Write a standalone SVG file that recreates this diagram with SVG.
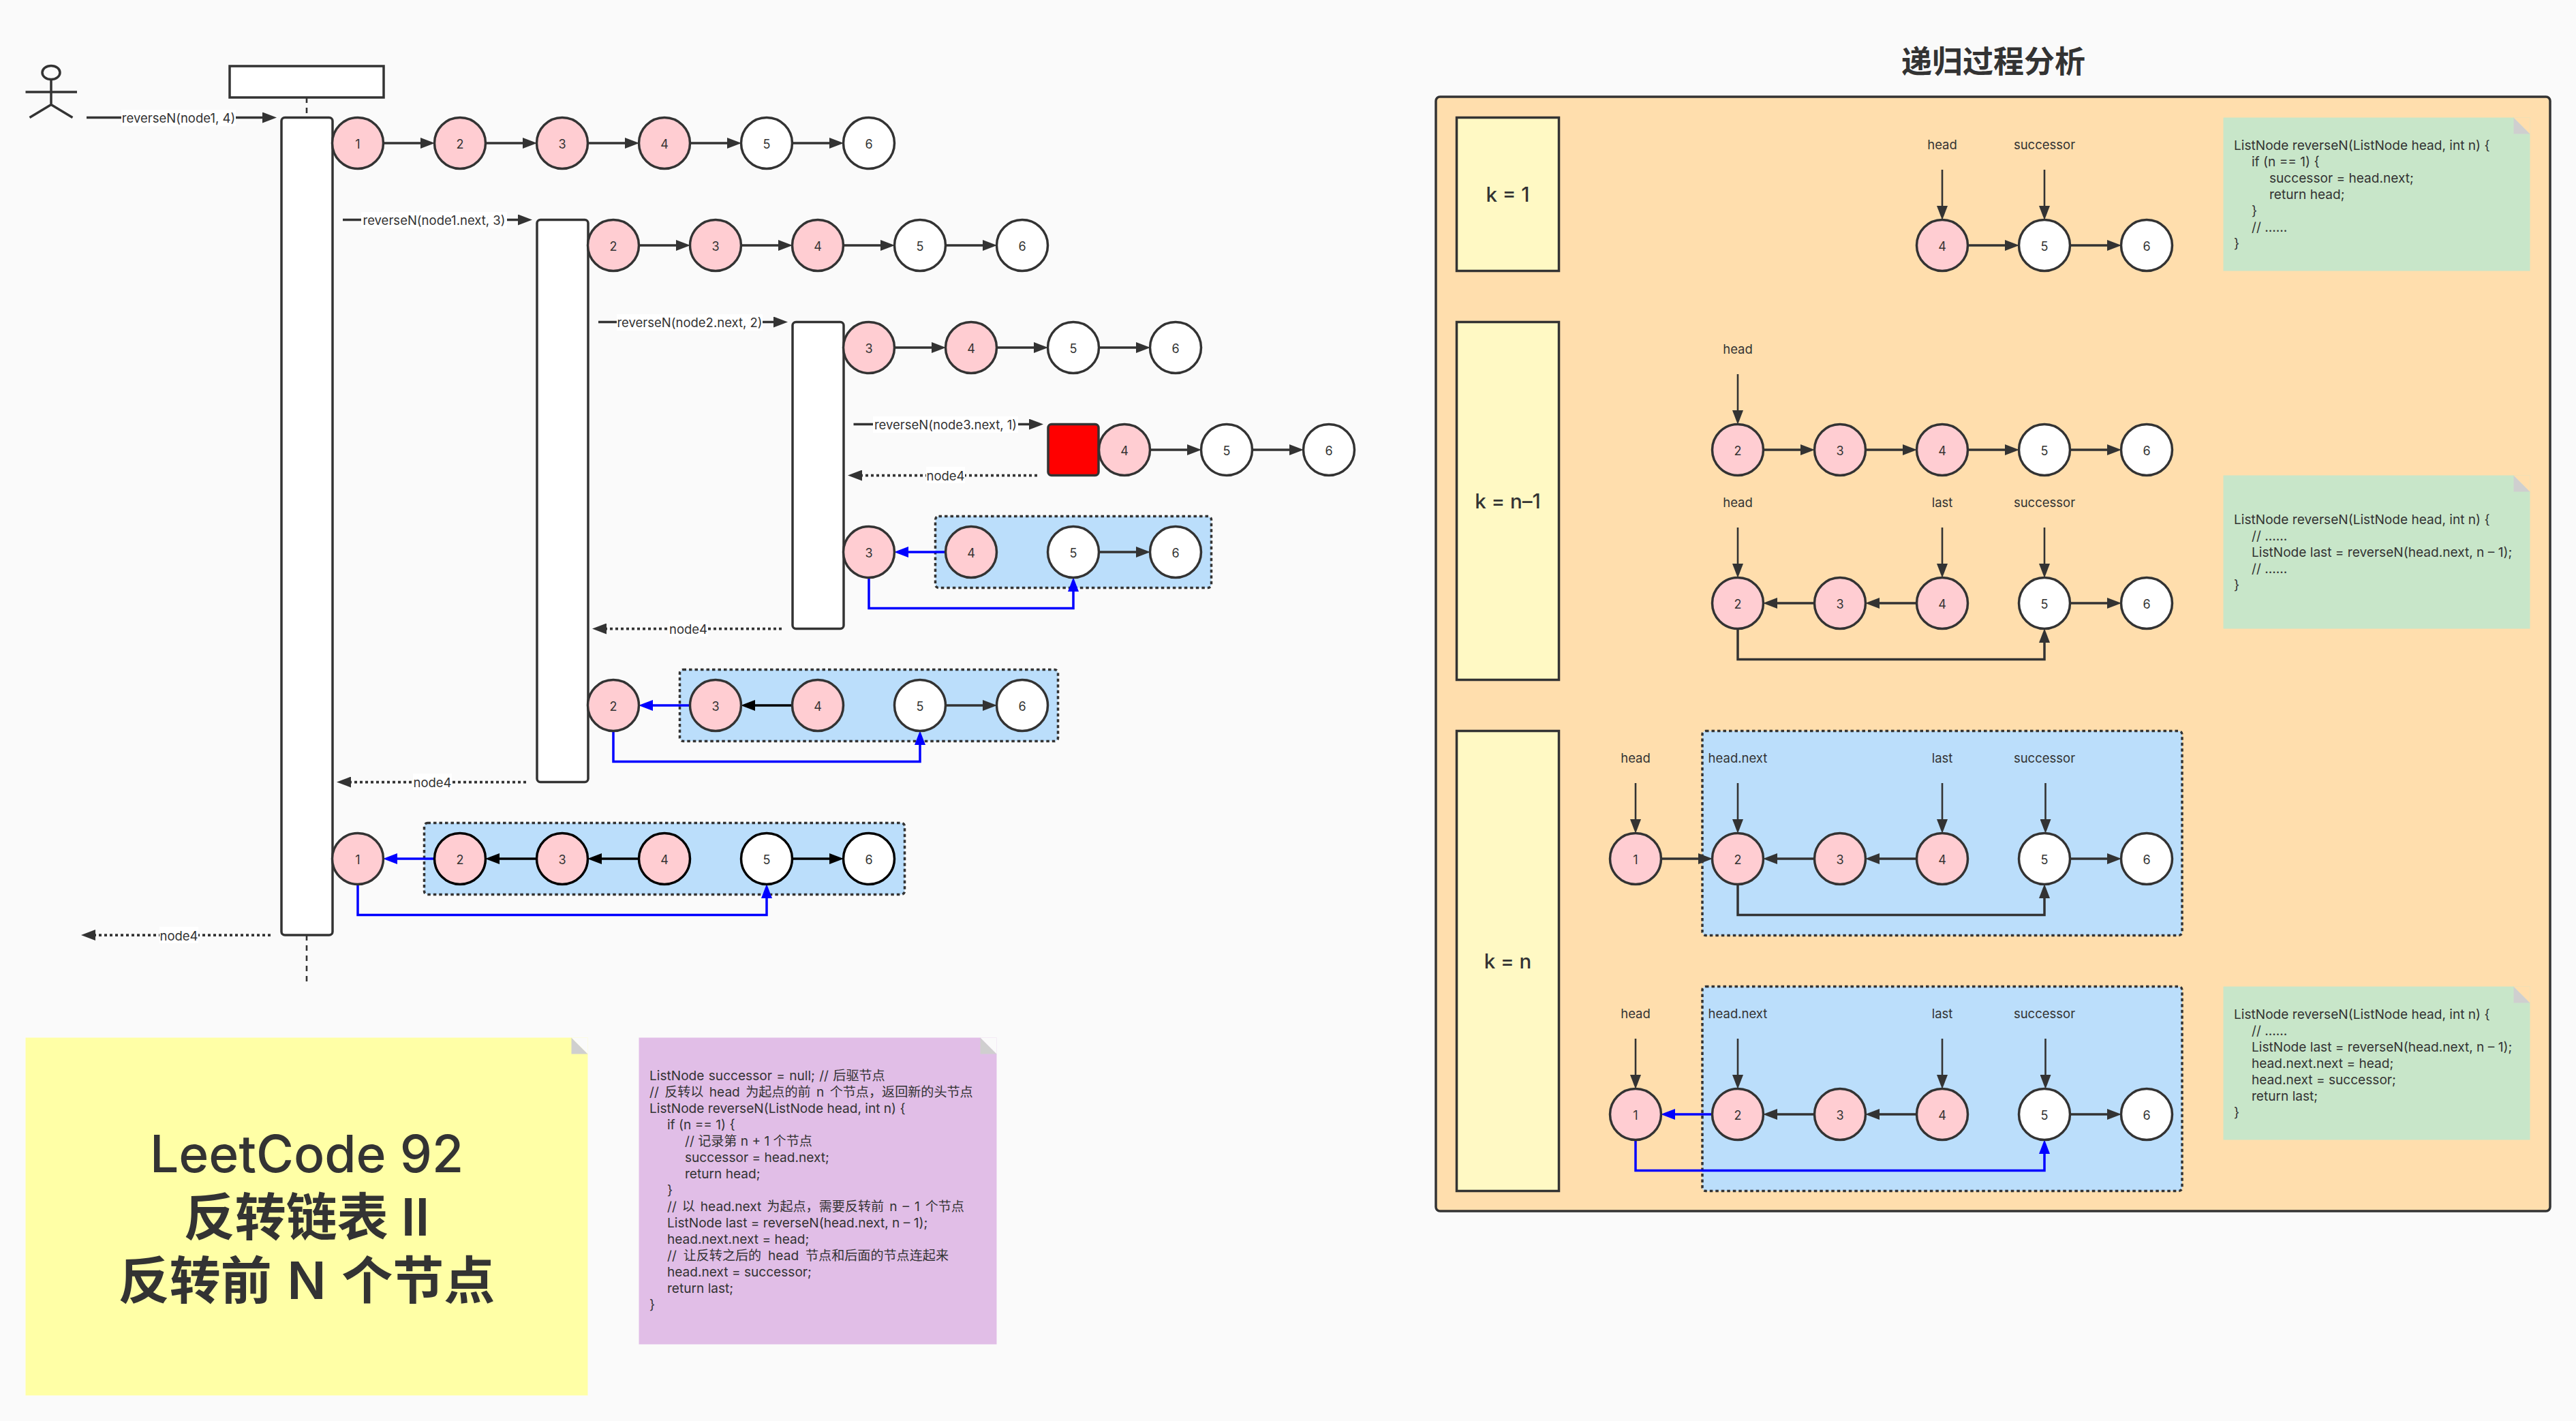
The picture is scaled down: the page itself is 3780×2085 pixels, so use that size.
<svg xmlns="http://www.w3.org/2000/svg" width="3780" height="2085" viewBox="0 0 3780 2085">
<style>
text{font-family:"Inter","Noto Sans CJK SC",sans-serif;fill:#333}
.n{stroke:#333;stroke-width:3.5;fill:#ffcdd2}
.w{stroke:#333;stroke-width:3.5;fill:#fff}
.kp{stroke:#000;stroke-width:3.5;fill:#ffcdd2}
.kw{stroke:#000;stroke-width:3.5;fill:#fff}
.d{font-size:18px;text-anchor:middle}
.p{font-size:18.5px;text-anchor:middle}
.c{font-size:19.1px}
.a{fill:none;stroke:#333;stroke-width:3.5;marker-end:url(#mg)}
.t{fill:none;stroke:#333;stroke-width:2.6;marker-end:url(#mg)}
.b{fill:none;stroke:#000;stroke-width:3.5;marker-end:url(#mk)}
.u{fill:none;stroke:#00f;stroke-width:3.5;marker-end:url(#mb)}
.r{fill:none;stroke:#333;stroke-width:3.75;stroke-dasharray:4 4;marker-end:url(#mg)}
.g{fill:#bbdefb;stroke:#333;stroke-width:3.5;stroke-dasharray:4.5 4}
.s{fill:#fff;stroke:#333;stroke-width:3.5}
.k{fill:#fff9c4;stroke:#333;stroke-width:3.5}
.f{fill:#cfcfcf}
.l{fill:#fff}
.h{font-size:75px;text-anchor:middle}
.m{font-size:29.5px;font-weight:500;text-anchor:middle}
</style>
<defs>
<marker id="mg" markerUnits="userSpaceOnUse" markerWidth="22" markerHeight="16" refX="10" refY="8" orient="auto"><path d="M0 0L21 8L0 16z" fill="#333"/></marker>
<marker id="mk" markerUnits="userSpaceOnUse" markerWidth="22" markerHeight="16" refX="10" refY="8" orient="auto"><path d="M0 0L21 8L0 16z" fill="#000"/></marker>
<marker id="mb" markerUnits="userSpaceOnUse" markerWidth="22" markerHeight="16" refX="10" refY="8" orient="auto"><path d="M0 0L21 8L0 16z" fill="#00f"/></marker>
</defs>
<rect width="3780" height="2085" fill="#fafafa"/>

<g id="actor" fill="none" stroke="#333" stroke-width="3.5">
<ellipse cx="75" cy="106.5" rx="13" ry="10"/>
<path d="M75 116.5V153.5M37.5 135H113M43.5 172.5L75 153.5L106.5 172.5"/>
</g>
<g id="lifeline">
<rect class="s" x="337" y="97" width="226" height="46"/>
<path d="M450 143V172M450 1372V1447" stroke="#333" stroke-width="2.6" stroke-dasharray="8 7" fill="none"/>
</g>
<g id="activation1"><rect class="s" x="413" y="172.5" width="75" height="1199.5" rx="5"/></g>
<g id="activation2"><rect class="s" x="788" y="322.5" width="75" height="825" rx="5"/></g>
<g id="activation3"><rect class="s" x="1163" y="472.5" width="75" height="450" rx="5"/></g>
<g id="activation4"><rect x="1538" y="622.5" width="74" height="75" rx="5" fill="#f00" stroke="#333" stroke-width="3.5"/></g>

<g id="group-rev3"><rect class="g" x="1372.5" y="757.5" width="405" height="105" rx="5"/></g>
<g id="group-rev2"><rect class="g" x="997.5" y="982.5" width="555" height="105" rx="5"/></g>
<g id="group-rev1"><rect class="g" x="622.5" y="1207.5" width="705" height="105" rx="5"/></g>

<g id="title-note">
<rect x="37.5" y="1522.5" width="825" height="525" fill="#ffffa6"/>
<path d="M838.5 1522.5L862.5 1546.5H838.5z" class="f"/>
<path d="M838.5 1522.5H862.5V1546.5z" fill="#fafafa"/>
<text class="h" x="450" y="1720" font-weight="500">LeetCode 92</text>
<text class="h" x="450" y="1813" font-weight="600">反转链表 Ⅱ</text>
<text class="h" x="450" y="1906" font-weight="600" word-spacing="4">反转前 N 个节点</text>
</g>
<g id="code-note">
<rect x="937.5" y="1522.5" width="525" height="450" fill="#e1bee7"/>
<path d="M1438.5 1522.5L1462.5 1546.5H1438.5z" class="f"/>
<path d="M1438.5 1522.5H1462.5V1546.5z" fill="#fafafa"/>
<text class="c" x="953" y="1585" word-spacing="1">ListNode successor = null; // 后驱节点</text>
<text class="c" x="953" y="1609" word-spacing="3">// 反转以 head 为起点的前 n 个节点，返回新的头节点</text>
<text class="c" x="953" y="1633">ListNode reverseN(ListNode head, int n) {</text>
<text class="c" x="979" y="1657">if (n == 1) {</text>
<text class="c" x="1005" y="1681">// 记录第 n + 1 个节点</text>
<text class="c" x="1005" y="1705">successor = head.next;</text>
<text class="c" x="1005" y="1729">return head;</text>
<text class="c" x="979" y="1753">}</text>
<text class="c" x="979" y="1777" word-spacing="2.6">// 以 head.next 为起点，需要反转前 n – 1 个节点</text>
<text class="c" x="979" y="1801">ListNode last = reverseN(head.next, n – 1);</text>
<text class="c" x="979" y="1825">head.next.next = head;</text>
<text class="c" x="979" y="1849" word-spacing="4.5">// 让反转之后的 head 节点和后面的节点连起来</text>
<text class="c" x="979" y="1873">head.next = successor;</text>
<text class="c" x="979" y="1897">return last;</text>
<text class="c" x="953" y="1921">}</text>
</g>

<text id="panel-title" x="2925" y="107" font-size="45" font-weight="600" text-anchor="middle">递归过程分析</text>
<g id="panel"><rect x="2107" y="142" width="1635" height="1635" rx="6" fill="#ffdead" stroke="#333" stroke-width="3.5"/></g>
<g id="k1"><rect class="k" x="2137.5" y="172.5" width="150" height="225"/><text class="m" x="2212.5" y="296">k = 1</text></g>
<g id="kn1"><rect class="k" x="2137.5" y="472.5" width="150" height="525"/><text class="m" x="2212.5" y="746">k = n–1</text></g>
<g id="kn"><rect class="k" x="2137.5" y="1072.5" width="150" height="675"/><text class="m" x="2212.5" y="1421">k = n</text></g>
<g id="group-kn-a"><rect class="g" x="2498" y="1072.5" width="704" height="300" rx="5"/></g>
<g id="group-kn-b"><rect class="g" x="2498" y="1447.5" width="704" height="300" rx="5"/></g>

<g id="note-k1">
<rect x="3262.5" y="172.5" width="450" height="225" fill="#c8e6c9"/>
<path d="M3688.5 172.5L3712.5 196.5H3688.5z" class="f"/><path d="M3688.5 172.5H3712.5V196.5z" fill="#ffdead"/>
<text class="c" x="3278" y="220">ListNode reverseN(ListNode head, int n) {</text>
<text class="c" x="3304" y="244">if (n == 1) {</text>
<text class="c" x="3330" y="268">successor = head.next;</text>
<text class="c" x="3330" y="292">return head;</text>
<text class="c" x="3304" y="316">}</text>
<text class="c" x="3304" y="340">// ......</text>
<text class="c" x="3278" y="364">}</text>
</g>
<g id="note-kn1">
<rect x="3262.5" y="697.5" width="450" height="225" fill="#c8e6c9"/>
<path d="M3688.5 697.5L3712.5 721.5H3688.5z" class="f"/><path d="M3688.5 697.5H3712.5V721.5z" fill="#ffdead"/>
<text class="c" x="3278" y="769">ListNode reverseN(ListNode head, int n) {</text>
<text class="c" x="3304" y="793">// ......</text>
<text class="c" x="3304" y="817">ListNode last = reverseN(head.next, n – 1);</text>
<text class="c" x="3304" y="841">// ......</text>
<text class="c" x="3278" y="865">}</text>
</g>
<g id="note-kn">
<rect x="3262.5" y="1447.5" width="450" height="225" fill="#c8e6c9"/>
<path d="M3688.5 1447.5L3712.5 1471.5H3688.5z" class="f"/><path d="M3688.5 1447.5H3712.5V1471.5z" fill="#ffdead"/>
<text class="c" x="3278" y="1495">ListNode reverseN(ListNode head, int n) {</text>
<text class="c" x="3304" y="1519">// ......</text>
<text class="c" x="3304" y="1543">ListNode last = reverseN(head.next, n – 1);</text>
<text class="c" x="3304" y="1567">head.next.next = head;</text>
<text class="c" x="3304" y="1591">head.next = successor;</text>
<text class="c" x="3304" y="1615">return last;</text>
<text class="c" x="3278" y="1639">}</text>
</g>

<g id="connectors">
<path class="a" d="M127 172.5H395"/><path class="a" d="M503 322.5H770"/><path class="a" d="M878 472.5H1145"/><path class="a" d="M1252.5 622.5H1520"/>
<path class="r" d="M1522 697.5H1255"/><path class="r" d="M1147 922.5H880"/><path class="r" d="M772 1147.5H505"/><path class="r" d="M397 1372H130"/>
<path class="a" d="M563 210H627"/><path class="a" d="M713 210H777"/><path class="a" d="M863 210H927"/><path class="a" d="M1013 210H1077"/><path class="a" d="M1163 210H1227"/>
<path class="a" d="M938 360H1002"/><path class="a" d="M1088 360H1152"/><path class="a" d="M1238 360H1302"/><path class="a" d="M1388 360H1452"/>
<path class="a" d="M1313 510H1377"/><path class="a" d="M1463 510H1527"/><path class="a" d="M1613 510H1677"/>
<path class="a" d="M1688 660H1752"/><path class="a" d="M1838 660H1902"/>
<path class="u" d="M1387 810H1323"/><path class="a" d="M1613 810H1677"/><path class="u" d="M1275 847.5V892.5H1575V858"/>
<path class="u" d="M1012 1035H948"/><path class="b" d="M1162 1035H1098"/><path class="a" d="M1388 1035H1452"/><path class="u" d="M900 1072.5V1117.5H1350V1083"/>
<path class="u" d="M637 1260H573"/><path class="b" d="M787 1260H723"/><path class="b" d="M937 1260H873"/><path class="b" d="M1163 1260H1227"/><path class="u" d="M525 1297.5V1342.5H1125V1308"/>
<path class="t" d="M2850 249V312"/><path class="t" d="M3000 249V312"/>
<path class="a" d="M2888 360H2952"/><path class="a" d="M3038 360H3102"/>
<path class="t" d="M2550 549V612"/>
<path class="a" d="M2588 660H2652"/><path class="a" d="M2738 660H2802"/><path class="a" d="M2888 660H2952"/><path class="a" d="M3038 660H3102"/>
<path class="t" d="M2550 774V837"/><path class="t" d="M2850 774V837"/><path class="t" d="M3000 774V837"/>
<path class="a" d="M2662 885H2598"/><path class="a" d="M2812 885H2748"/><path class="a" d="M3038 885H3102"/><path class="a" d="M2550 922.5V967.5H3000V933"/>
<path class="t" d="M2400 1149V1212"/><path class="t" d="M2550 1149V1212"/><path class="t" d="M2850 1149V1212"/><path class="t" d="M3001.5 1149V1212"/>
<path class="a" d="M2438 1260H2502"/><path class="a" d="M2662 1260H2598"/><path class="a" d="M2812 1260H2748"/><path class="a" d="M3038 1260H3102"/><path class="a" d="M2550 1297.5V1342.5H3000V1308"/>
<path class="t" d="M2400 1524V1587"/><path class="t" d="M2550 1524V1587"/><path class="t" d="M2850 1524V1587"/><path class="t" d="M3001.5 1524V1587"/>
<path class="u" d="M2512 1635H2448"/><path class="a" d="M2662 1635H2598"/><path class="a" d="M2812 1635H2748"/><path class="a" d="M3038 1635H3102"/><path class="u" d="M2400 1672.5V1717.5H3000V1683"/>
<g id="connector-labels">
<rect class="l" x="178" y="161" width="168" height="24"/><text class="p" x="262" y="180">reverseN(node1, 4)</text>
<rect class="l" x="530" y="311" width="214" height="24"/><text class="p" x="637" y="330">reverseN(node1.next, 3)</text>
<rect class="l" x="905" y="461" width="214" height="24"/><text class="p" x="1012" y="480">reverseN(node2.next, 2)</text>
<rect class="l" x="1281" y="611" width="213" height="24"/><text class="p" x="1387.5" y="630">reverseN(node3.next, 1)</text>
<rect class="l" x="1359" y="685" width="57" height="24"/><text class="p" x="1387.5" y="705">node4</text>
<rect class="l" x="982" y="910" width="57" height="24"/><text class="p" x="1010" y="930">node4</text>
<rect class="l" x="606" y="1135" width="57" height="24"/><text class="p" x="634.5" y="1155">node4</text>
<rect class="l" x="234" y="1360" width="57" height="24"/><text class="p" x="262.5" y="1380">node4</text>
</g>
<g id="pointer-labels">
<text class="p" x="2850" y="219">head</text><text class="p" x="3000" y="219">successor</text>
<text class="p" x="2550" y="519">head</text>
<text class="p" x="2550" y="744">head</text><text class="p" x="2850" y="744">last</text><text class="p" x="3000" y="744">successor</text>
<text class="p" x="2400" y="1119">head</text><text class="p" x="2550" y="1119">head.next</text><text class="p" x="2850" y="1119">last</text><text class="p" x="3000" y="1119">successor</text>
<text class="p" x="2400" y="1494">head</text><text class="p" x="2550" y="1494">head.next</text><text class="p" x="2850" y="1494">last</text><text class="p" x="3000" y="1494">successor</text>
</g>
</g>

<g id="row1">
<g id="r1n1"><circle class="n" cx="525" cy="210" r="37.5"/><text class="d" x="525" y="218">1</text></g>
<g id="r1n2"><circle class="n" cx="675" cy="210" r="37.5"/><text class="d" x="675" y="218">2</text></g>
<g id="r1n3"><circle class="n" cx="825" cy="210" r="37.5"/><text class="d" x="825" y="218">3</text></g>
<g id="r1n4"><circle class="n" cx="975" cy="210" r="37.5"/><text class="d" x="975" y="218">4</text></g>
<g id="r1n5"><circle class="w" cx="1125" cy="210" r="37.5"/><text class="d" x="1125" y="218">5</text></g>
<g id="r1n6"><circle class="w" cx="1275" cy="210" r="37.5"/><text class="d" x="1275" y="218">6</text></g>
</g>
<g id="row2">
<g id="r2n2"><circle class="n" cx="900" cy="360" r="37.5"/><text class="d" x="900" y="368">2</text></g>
<g id="r2n3"><circle class="n" cx="1050" cy="360" r="37.5"/><text class="d" x="1050" y="368">3</text></g>
<g id="r2n4"><circle class="n" cx="1200" cy="360" r="37.5"/><text class="d" x="1200" y="368">4</text></g>
<g id="r2n5"><circle class="w" cx="1350" cy="360" r="37.5"/><text class="d" x="1350" y="368">5</text></g>
<g id="r2n6"><circle class="w" cx="1500" cy="360" r="37.5"/><text class="d" x="1500" y="368">6</text></g>
</g>
<g id="row3">
<g id="r3n3"><circle class="n" cx="1275" cy="510" r="37.5"/><text class="d" x="1275" y="518">3</text></g>
<g id="r3n4"><circle class="n" cx="1425" cy="510" r="37.5"/><text class="d" x="1425" y="518">4</text></g>
<g id="r3n5"><circle class="w" cx="1575" cy="510" r="37.5"/><text class="d" x="1575" y="518">5</text></g>
<g id="r3n6"><circle class="w" cx="1725" cy="510" r="37.5"/><text class="d" x="1725" y="518">6</text></g>
</g>
<g id="row4">
<g id="r4n4"><circle class="n" cx="1650" cy="660" r="37.5"/><text class="d" x="1650" y="668">4</text></g>
<g id="r4n5"><circle class="w" cx="1800" cy="660" r="37.5"/><text class="d" x="1800" y="668">5</text></g>
<g id="r4n6"><circle class="w" cx="1950" cy="660" r="37.5"/><text class="d" x="1950" y="668">6</text></g>
</g>
<g id="rev3">
<g id="v3n3"><circle class="n" cx="1275" cy="810" r="37.5"/><text class="d" x="1275" y="818">3</text></g>
<g id="v3n4"><circle class="n" cx="1425" cy="810" r="37.5"/><text class="d" x="1425" y="818">4</text></g>
<g id="v3n5"><circle class="w" cx="1575" cy="810" r="37.5"/><text class="d" x="1575" y="818">5</text></g>
<g id="v3n6"><circle class="w" cx="1725" cy="810" r="37.5"/><text class="d" x="1725" y="818">6</text></g>
</g>
<g id="rev2">
<g id="v2n2"><circle class="n" cx="900" cy="1035" r="37.5"/><text class="d" x="900" y="1043">2</text></g>
<g id="v2n3"><circle class="n" cx="1050" cy="1035" r="37.5"/><text class="d" x="1050" y="1043">3</text></g>
<g id="v2n4"><circle class="n" cx="1200" cy="1035" r="37.5"/><text class="d" x="1200" y="1043">4</text></g>
<g id="v2n5"><circle class="w" cx="1350" cy="1035" r="37.5"/><text class="d" x="1350" y="1043">5</text></g>
<g id="v2n6"><circle class="w" cx="1500" cy="1035" r="37.5"/><text class="d" x="1500" y="1043">6</text></g>
</g>
<g id="rev1">
<g id="v1n1"><circle class="n" cx="525" cy="1260" r="37.5"/><text class="d" x="525" y="1268">1</text></g>
<g id="v1n2"><circle class="kp" cx="675" cy="1260" r="37.5"/><text class="d" x="675" y="1268">2</text></g>
<g id="v1n3"><circle class="kp" cx="825" cy="1260" r="37.5"/><text class="d" x="825" y="1268">3</text></g>
<g id="v1n4"><circle class="kp" cx="975" cy="1260" r="37.5"/><text class="d" x="975" y="1268">4</text></g>
<g id="v1n5"><circle class="kw" cx="1125" cy="1260" r="37.5"/><text class="d" x="1125" y="1268">5</text></g>
<g id="v1n6"><circle class="kw" cx="1275" cy="1260" r="37.5"/><text class="d" x="1275" y="1268">6</text></g>
</g>
<g id="k1-nodes">
<g id="k1n4"><circle class="n" cx="2850" cy="360" r="37.5"/><text class="d" x="2850" y="368">4</text></g>
<g id="k1n5"><circle class="w" cx="3000" cy="360" r="37.5"/><text class="d" x="3000" y="368">5</text></g>
<g id="k1n6"><circle class="w" cx="3150" cy="360" r="37.5"/><text class="d" x="3150" y="368">6</text></g>
</g>
<g id="kn1a-nodes">
<g id="an2"><circle class="n" cx="2550" cy="660" r="37.5"/><text class="d" x="2550" y="668">2</text></g>
<g id="an3"><circle class="n" cx="2700" cy="660" r="37.5"/><text class="d" x="2700" y="668">3</text></g>
<g id="an4"><circle class="n" cx="2850" cy="660" r="37.5"/><text class="d" x="2850" y="668">4</text></g>
<g id="an5"><circle class="w" cx="3000" cy="660" r="37.5"/><text class="d" x="3000" y="668">5</text></g>
<g id="an6"><circle class="w" cx="3150" cy="660" r="37.5"/><text class="d" x="3150" y="668">6</text></g>
</g>
<g id="kn1b-nodes">
<g id="bn2"><circle class="n" cx="2550" cy="885" r="37.5"/><text class="d" x="2550" y="893">2</text></g>
<g id="bn3"><circle class="n" cx="2700" cy="885" r="37.5"/><text class="d" x="2700" y="893">3</text></g>
<g id="bn4"><circle class="n" cx="2850" cy="885" r="37.5"/><text class="d" x="2850" y="893">4</text></g>
<g id="bn5"><circle class="w" cx="3000" cy="885" r="37.5"/><text class="d" x="3000" y="893">5</text></g>
<g id="bn6"><circle class="w" cx="3150" cy="885" r="37.5"/><text class="d" x="3150" y="893">6</text></g>
</g>
<g id="kna-nodes">
<g id="cn1"><circle class="n" cx="2400" cy="1260" r="37.5"/><text class="d" x="2400" y="1268">1</text></g>
<g id="cn2"><circle class="n" cx="2550" cy="1260" r="37.5"/><text class="d" x="2550" y="1268">2</text></g>
<g id="cn3"><circle class="n" cx="2700" cy="1260" r="37.5"/><text class="d" x="2700" y="1268">3</text></g>
<g id="cn4"><circle class="n" cx="2850" cy="1260" r="37.5"/><text class="d" x="2850" y="1268">4</text></g>
<g id="cn5"><circle class="w" cx="3000" cy="1260" r="37.5"/><text class="d" x="3000" y="1268">5</text></g>
<g id="cn6"><circle class="w" cx="3150" cy="1260" r="37.5"/><text class="d" x="3150" y="1268">6</text></g>
</g>
<g id="knb-nodes">
<g id="dn1"><circle class="n" cx="2400" cy="1635" r="37.5"/><text class="d" x="2400" y="1643">1</text></g>
<g id="dn2"><circle class="n" cx="2550" cy="1635" r="37.5"/><text class="d" x="2550" y="1643">2</text></g>
<g id="dn3"><circle class="n" cx="2700" cy="1635" r="37.5"/><text class="d" x="2700" y="1643">3</text></g>
<g id="dn4"><circle class="n" cx="2850" cy="1635" r="37.5"/><text class="d" x="2850" y="1643">4</text></g>
<g id="dn5"><circle class="w" cx="3000" cy="1635" r="37.5"/><text class="d" x="3000" y="1643">5</text></g>
<g id="dn6"><circle class="w" cx="3150" cy="1635" r="37.5"/><text class="d" x="3150" y="1643">6</text></g>
</g>
</svg>
